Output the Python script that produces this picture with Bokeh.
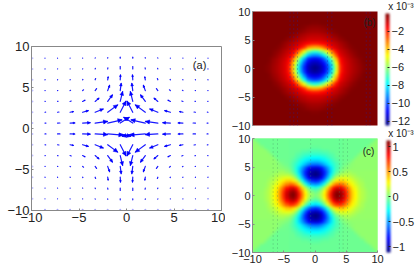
import numpy as np
from bokeh.document import Document
from bokeh.plotting import figure
from bokeh.layouts import row, column
from bokeh.models import (AllLabels, ColorBar, CustomJS, FixedTicker, Label, LinearColorMapper, Range1d, Title)
from bokeh.embed import file_html
from bokeh.resources import INLINE

FONT = "Liberation Sans"
TXT = "#222222"

# ---------- panel (a): arrow field, upper-right quadrant
grid_pos = [0.66, 1.98, 3.30, 4.62, 5.94, 7.26, 8.58]
u_quad = [
    [0.95, 1.50, 1.30, 0.80, 0.50, 0.25, 0.10],
    [0.60, 1.05, 0.85, 0.60, 0.35, 0.15, 0.07],
    [0.25, 0.50, 0.40, 0.25, 0.12, 0.06, 0.03],
    [0.10, 0.20, 0.15, 0.10, 0.05, 0.03, 0.02],
    [0.03, 0.05, 0.05, 0.03, 0.02, 0.01, 0.01],
    [0.00, 0.02, 0.02, 0.01, 0.01, 0.01, 0.01],
    [0.00, 0.01, 0.01, 0.01, 0.01, 0.00, 0.00],
]
v_quad = [
    [0.70, 0.40, 0.20, 0.05, 0.02, 0.01, 0.00],
    [1.35, 0.90, 0.40, 0.20, 0.08, 0.03, 0.01],
    [1.20, 0.80, 0.40, 0.15, 0.05, 0.02, 0.01],
    [0.90, 0.65, 0.25, 0.10, 0.04, 0.01, 0.01],
    [0.60, 0.35, 0.15, 0.05, 0.02, 0.01, 0.01],
    [0.30, 0.15, 0.07, 0.02, 0.01, 0.01, 0.00],
    [0.12, 0.06, 0.03, 0.01, 0.01, 0.00, 0.00],
]
# the row just below the axis is flatter than its mirror above
u_low_row = [1.10, 1.60, 1.30, 0.80, 0.50, 0.25, 0.10]
v_low_row = [0.30, 0.15, 0.08, 0.03, 0.01, 0.00, 0.00]

# ---------- panel (b): values (x 10^-3), quadrant, cell step b_step
b_step = 0.466
b_quad = [
    [-12.4,-12.2,-11.8,-11.2,-10.4,-9.0,-7.4,-5.2,-3.5,-1.9,-1.3,-1.0,-.8,-.6,-.45,-.3,-.15,-.05],
    [-12.2,-12.0,-11.7,-11.1,-10.2,-8.9,-7.2,-5.1,-3.4,-1.9,-1.3,-1.0,-.8,-.6,-.45,-.3,-.15,-.05],
    [-11.8,-11.7,-11.3,-10.7,-9.8,-8.4,-6.6,-4.7,-3.1,-1.7,-1.25,-.98,-.75,-.57,-.42,-.27,-.13,-.04],
    [-11.2,-11.1,-10.7,-10.0,-9.0,-7.6,-5.9,-4.1,-2.6,-1.6,-1.15,-.9,-.7,-.5,-.37,-.22,-.09,-.02],
    [-10.4,-10.2,-9.8,-9.0,-7.9,-6.5,-4.8,-3.4,-2.0,-1.4,-1.05,-.82,-.6,-.42,-.28,-.14,-.05,-.01],
    [-9.0,-8.9,-8.4,-7.6,-6.5,-5.1,-3.8,-2.5,-1.6,-1.15,-.9,-.7,-.5,-.33,-.18,-.07,-.02],
    [-7.4,-7.2,-6.6,-5.9,-4.8,-3.8,-2.7,-1.75,-1.25,-.95,-.75,-.55,-.38,-.22,-.1,-.03],
    [-5.2,-5.1,-4.7,-4.1,-3.4,-2.5,-1.75,-1.3,-1.0,-.8,-.62,-.45,-.28,-.14,-.05,-.01],
    [-3.5,-3.4,-3.1,-2.6,-2.0,-1.6,-1.25,-1.0,-.82,-.65,-.48,-.32,-.17,-.07,-.02],
    [-1.9,-1.9,-1.7,-1.6,-1.4,-1.15,-.95,-.8,-.65,-.5,-.35,-.2,-.09,-.03],
    [-1.3,-1.3,-1.25,-1.15,-1.05,-.9,-.75,-.62,-.48,-.35,-.22,-.11,-.04],
    [-1.0,-1.0,-.98,-.9,-.82,-.7,-.55,-.45,-.32,-.2,-.11,-.04],
    [-.8,-.8,-.75,-.7,-.6,-.5,-.38,-.28,-.17,-.09,-.04],
    [-.6,-.6,-.57,-.5,-.42,-.33,-.22,-.14,-.07,-.03],
    [-.45,-.45,-.42,-.37,-.28,-.18,-.1,-.05,-.02],
    [-.3,-.3,-.27,-.22,-.14,-.07,-.03,-.01],
    [-.15,-.15,-.13,-.09,-.05,-.02],
    [-.05,-.05,-.04,-.02,-.01],
]

# ---------- panel (c): values (x 10^-3) for x > y in the quadrant, step 0.5; sign flips across the diagonal
c_tri = [
    [.05,.15,.32,.55,.78,1.0,1.12,1.08,.95,.75,.55,.38,.28,.18,.12,.08,.06,.05,.05,.05],
    [.11,.28,.51,.74,.97,1.07,1.04,.92,.73,.54,.37,.28,.18,.12,.08,.06,.05,.05,.05],
    [.17,.40,.62,.84,.95,.92,.83,.65,.49,.34,.25,.16,.11,.07,.05,.05,.05,.05],
    [.22,.46,.65,.76,.77,.68,.55,.41,.30,.22,.15,.09,.06,.05,.05,.05,.05],
    [.23,.43,.55,.58,.52,.43,.33,.25,.18,.13,.09,.06,.05,.05,.05,.05],
    [.2,.32,.38,.37,.31,.24,.2,.14,.1,.07,.05,.05,.05,.05,.05],
    [.14,.21,.22,.21,.18,.14,.1,.08,.06,.05,.05,.05,.05,.05],
    [.08,.12,.12,.12,.09,.07,.05,.05,.05,.05,.05,.05,.05],
    [.04,.07,.07,.06,.05,.05,.05,.05,.05,.05,.05,.05],
    [.02,.03,.04,.04,.04,.04,.04,.04,.04,.04,.04],
    [.02,.03,.04,.04,.04,.04,.04,.04,.04,.04],
    [.03,.04,.04,.04,.04,.04,.04,.04,.04],
    [.04,.04,.04,.04,.04,.04,.04,.04],
    [.04,.04,.04,.04,.04,.04,.04],
    [.04,.04,.04,.04,.04,.04],
    [.04,.04,.04,.04,.04],
    [.04,.04,.04,.04],
    [.04,.04,.04],
    [.04,.04],
    [.04],
]

b_dots_x = [-4.0, -3.4, -2.8, 2.0, 2.7, 8.2, 8.8]
c_dots_x = [-6.7, -6.0, -0.7, 3.9, 4.5, 5.2]

ticks = [-10, -5, 0, 5, 10]
tick_names = {-10: "\u221210", -5: "\u22125", 0: "0", 5: "5", 10: "10"}
b_ticks = [-2, -4, -6, -8, -10, -12]
b_names = {t: f"\u2212{-t}" for t in b_ticks}
c_ticks = [-1, -0.5, 0, 0.5, 1]
c_names = {-1: "\u22121", -0.5: "\u22120.5", 0: "0", 0.5: "0.5", 1: "1"}
bar_title = "x 10\u207b\u00b3"


def jet(n=256):
    out = []
    for i in range(n):
        t = i / (n - 1)
        r = np.clip(min(4 * t - 1.5, -4 * t + 4.5), 0, 1)
        g = np.clip(min(4 * t - 0.5, -4 * t + 3.5), 0, 1)
        b = np.clip(min(4 * t + 0.5, -4 * t + 2.5), 0, 1)
        out.append("#%02x%02x%02x" % (int(r * 255), int(g * 255), int(b * 255)))
    return out


def mirror(q):
    q = np.asarray(q, float)
    top = np.hstack([q[:, :0:-1], q])
    return np.vstack([top[:0:-1], top])


def style(p, size, xlabels=True):
    for ax in (p.xaxis[0], p.yaxis[0]):
        ax.ticker = FixedTicker(ticks=ticks)
        ax.major_label_overrides = tick_names
        ax.major_label_text_font = FONT
        ax.major_label_text_font_size = size
        ax.major_label_text_color = TXT
        ax.major_tick_in = 2
        ax.major_tick_out = 0
        ax.minor_tick_line_color = None
        ax.axis_line_color = "#888888"
        ax.major_tick_line_color = "#888888"
        ax.major_label_standoff = 2
    p.xgrid.visible = False
    p.ygrid.visible = False
    if not xlabels:
        p.xaxis.visible = False


def note(p, x, y, text, size, align="left"):
    p.add_layout(Label(x=x, y=y, text=text, text_font=FONT, text_font_size=size,
                       text_color=TXT, text_align=align, text_baseline="middle"))


def bar(mapper, tick_list, names, left):
    return ColorBar(color_mapper=mapper, ticker=FixedTicker(ticks=tick_list),
                    major_label_overrides=names, major_label_policy=AllLabels(),
                    width=4, height=112, padding=0, margin=0, location=(left, 0),
                    major_label_text_font=FONT, major_label_text_font_size="11px",
                    major_label_text_color=TXT, major_tick_in=2,
                    major_tick_line_color="#222222", label_standoff=2,
                    bar_line_color=None, border_line_color=None, background_fill_color=None)


def bar_caption(p, shift):
    t = Title(text=bar_title, text_font=FONT, text_font_size="10px", text_font_style="normal",
              text_color=TXT, align="right", offset=shift, standoff=0)
    p.add_layout(t, "above")


# ---------- panel (a)
pa = figure(width=225, height=269, output_backend="svg", toolbar_location=None,
            x_range=Range1d(-10, 10), y_range=Range1d(-10, 10),
            min_border_left=31, min_border_right=4, min_border_top=46, min_border_bottom=59,
            background_fill_color="white", outline_line_color="#888888")
style(pa, "13px")

pos = np.array(grid_pos)
U = np.array(u_quad)
V = np.array(v_quad)
xs, ys, us, vs = [], [], [], []
for sy in (1, -1):
    for sx in (1, -1):
        for j, y in enumerate(pos):
            for i, x in enumerate(pos):
                uu = u_low_row[i] if (sy < 0 and j == 0) else U[j, i]
                vv = v_low_row[i] if (sy < 0 and j == 0) else V[j, i]
                xs.append(sx * x)
                ys.append(sy * y)
                us.append(-sx * uu)
                vs.append(sy * vv)
xs, ys, us, vs = map(np.array, (xs, ys, us, vs))
pa.segment(xs, ys, xs + us, ys + vs, line_color="#0000ff", line_width=1.2, line_cap="round", line_alpha=0.9)
px, py = 9.5, 8.2  # pixels per data unit, so the heads keep their shape
hx, hy = [], []
for x, y, u, v in zip(xs, ys, us, vs):
    du, dv = u * px, v * py
    L = np.hypot(du, dv)
    if L < 2.5:
        continue
    ux, uy = du / L, dv / L
    h = min(0.35 * L, 4)
    w = 0.5 * h
    tx, ty = (x + u) * px, (y + v) * py
    bx, by = tx - h * ux, ty - h * uy
    hx.append([tx / px, (bx - w * uy) / px, (bx + w * uy) / px])
    hy.append([ty / py, (by + w * ux) / py, (by - w * ux) / py])
pa.patches(hx, hy, fill_color="#0000ff", line_color="#0000ff", line_width=0.6)
edge = [-p for p in grid_pos[::-1]] + grid_pos
pa.scatter([-9.9] * len(edge), edge, size=2, color="#0000ff", alpha=0.25, line_color=None)
pa.scatter(edge, [-9.9] * len(edge), size=2, color="#0000ff", alpha=0.35, line_color=None)
note(pa, 8.4, 7.7, "(a)", "11px", "right")

# ---------- panel (b)
pal = jet()
B = [r + [0.0] * (21 - len(r)) for r in b_quad] + [[0.0] * 21] * 3
mb = LinearColorMapper(palette=pal, low=-12.5, high=0)
pb = figure(width=190, height=135, output_backend="svg", toolbar_location=None,
            x_range=Range1d(-10, 10), y_range=Range1d(-10, 10),
            frame_width=125, frame_height=114,
            min_border_left=26, min_border_right=39, min_border_top=11, min_border_bottom=8,
            outline_line_color=None, background_fill_color=pal[-1], margin=(-2, 0, 0, 0))
style(pb, "11px", xlabels=False)
half_b = 20.5 * b_step
pb.image(image=[mirror(B)], x=-half_b, y=-half_b, dw=2 * half_b, dh=2 * half_b, color_mapper=mb)
pb.segment(b_dots_x, [-10] * len(b_dots_x), b_dots_x, [10] * len(b_dots_x),
           line_color="#2020a0", line_dash="1 3", line_alpha=0.6, line_width=1)
note(pb, 9.7, 8.1, "(b)", "10px", "right")
pb.add_layout(bar(mb, b_ticks, b_names, 8), "right")
bar_caption(pb, -36)

# ---------- panel (c)
T = np.zeros((21, 21))
for j, r in enumerate(c_tri):
    T[j, j + 1:j + 1 + len(r)] = r
C = T - T.T
mc = LinearColorMapper(palette=pal, low=-1.12, high=1.12)
pc = figure(width=190, height=144, output_backend="svg", toolbar_location=None,
            x_range=Range1d(-10, 10), y_range=Range1d(-10, 10),
            frame_width=125, frame_height=114,
            min_border_left=27, min_border_right=38, min_border_top=6, min_border_bottom=17,
            outline_line_color=None, background_fill_color=pal[128], border_fill_color=None,
            margin=(-8, 0, 0, 0))
style(pc, "11px")
pc.image(image=[mirror(C)], x=-10.25, y=-10.25, dw=20.5, dh=20.5, color_mapper=mc)
pc.segment(c_dots_x, [-10] * len(c_dots_x), c_dots_x, [10] * len(c_dots_x),
           line_color="#408060", line_dash="1 3", line_alpha=0.5, line_width=1)
note(pc, 9.5, 7.7, "(c)", "10px", "right")
pc.add_layout(bar(mc, c_ticks, c_names, 9), "right")
bar_caption(pc, -36)

layout = row(pa, column(pb, pc, spacing=0), spacing=0)

# soften the drawn cells on screen, as the shaded panels of the reference are soft
soften = CustomJS(code="""
function walk(root) {
  root.querySelectorAll('*').forEach(function (e) {
    if (e.tagName.toLowerCase() === 'image') { e.style.filter = 'blur(1.2px)'; }
    if (e.shadowRoot) { walk(e.shadowRoot); }
  });
}
walk(document);
setTimeout(function () { walk(document); }, 100);
setTimeout(function () { walk(document); }, 500);
""")
doc = Document()
doc.add_root(layout)
doc.js_on_event("document_ready", soften)
open("out.html", "w").write(file_html(doc, INLINE))
